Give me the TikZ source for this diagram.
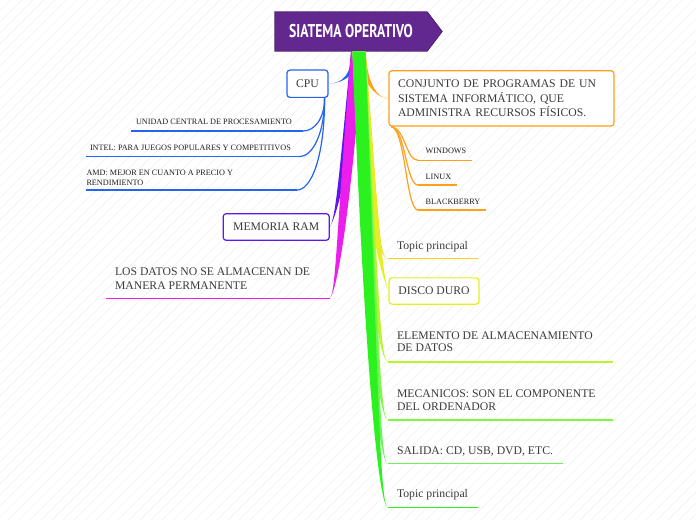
\documentclass[tikz,border=0pt]{standalone}
\usepackage{fontspec}
\setmainfont{Liberation Serif}
\newfontfamily\rootfont{PT Sans}
\usetikzlibrary{calc}
\definecolor{rootc}{HTML}{62288F}
\definecolor{rootbd}{HTML}{4A1C6E}
\definecolor{cpuc}{HTML}{2563F5}
\definecolor{ramc}{HTML}{5A18EE}
\definecolor{magc}{HTML}{EC1EEC}
\definecolor{orc}{HTML}{FF9F1A}
\definecolor{tac}{HTML}{FFD11F}
\definecolor{disc}{HTML}{E6EE22}
\definecolor{elc}{HTML}{B8F52A}
\definecolor{mecc}{HTML}{80F542}
\definecolor{salc}{rgb}{0.42,0.95,0.36}
\definecolor{tbc}{rgb}{0.17,0.95,0.12}
\definecolor{txtc}{HTML}{3A3A3A}
\definecolor{smc}{HTML}{1E1E1E}
\newcommand\ubox[2]{\parbox[b]{#1}{\raggedright #2}}
\newcommand\mmbr[6]{\fill[#1] ([xshift=#2-#3]rb) .. controls +#4 and +#6 .. #5 .. controls +#6 and +#4 .. ([xshift=#2+#3]rb) -- cycle;}
\newcommand\uln[2]{\fill[#1] ([yshift=0.75pt]#2.south west) rectangle ([yshift=-0.75pt]#2.south east);}
\begin{document}
\begin{tikzpicture}[x=1pt,y=-1pt,
  txt/.style={font=\fontsize{11.7}{12.7}\selectfont, text=txtc},
  sml/.style={font=\fontsize{8.2}{10}\selectfont, text=smc},
  ul/.style={anchor=south west, text depth=0pt, inner ysep=#1, outer sep=0pt},
  box/.style={draw=#1, line width=1.2pt, rounded corners=3pt, fill=white, inner sep=0pt, txt},
  sub/.style={draw=#1, line width=1.2pt},
  hatch/.style={draw=black!6, line width=0.5pt}]
\useasboundingbox (0,0) rectangle (696,520);
\begin{scope}
\clip (0,0) rectangle (696,520);
\foreach \i in {-520,-509,...,696} \draw[hatch] (\i,520) -- (\i+520,0);
\end{scope}

% root
\node[fill=rootc, inner sep=0pt, minimum width=152pt, minimum height=39pt, text=white,
  font=\rootfont\bfseries\fontsize{18.5}{20}\selectfont] (root) at (351,31.5)
  {\scalebox{0.74}[1]{SIATEMA OPERATIVO}};
\fill[rootc] (root.north east) -- ([xshift=15pt]root.east) -- (root.south east) -- cycle;
\draw[rootbd, line width=0.8pt] (root.north west) -- (root.north east) -- ([xshift=15pt]root.east) -- (root.south east) -- (root.south west) -- cycle;
\coordinate (rb) at ([shift={(8pt,-0.4pt)}]root.south);

% boxed topics
\node[box=cpuc, minimum width=41pt, minimum height=27.3pt] (cpu) at (307.5,83.7) {CPU};
\node[box=ramc, minimum width=106pt, minimum height=26.6pt] (ram) at (276.2,227) {MEMORIA RAM};
\node[box=orc, minimum width=225pt, minimum height=55.3pt, text width=207pt, align=left,
  font=\fontsize{11.7}{14.7}\selectfont] (conj) at (501.5,98.4)
  {CONJUNTO DE PROGRAMAS DE UN\\ SISTEMA INFORMÁTICO, QUE\\ ADMINISTRA RECURSOS FÍSICOS.};
\node[box=disc, minimum width=90pt, minimum height=26.3pt] (disco) at (434,291) {DISCO DURO};

% underlined topics (right)
\node[ul=9.5pt, inner xsep=9pt, txt] (t1) at (388,258.5) {\ubox{72pt}{Topic principal}};
\node[ul=10.3pt, inner xsep=9pt, txt] (elem) at (388,362) {\ubox{207pt}{ELEMENTO DE ALMACENAMIENTO\\ DE DATOS}};
\node[ul=10pt, inner xsep=9pt, txt] (mec) at (388,420) {\ubox{207pt}{MECANICOS: SON EL COMPONENTE\\ DEL ORDENADOR}};
\node[ul=9.7pt, inner xsep=9pt, txt] (sal) at (388,463.7) {\ubox{157pt}{SALIDA: CD, USB, DVD, ETC.}};
\node[ul=10pt, inner xsep=9pt, txt] (t2) at (388,507.7) {\ubox{72pt}{Topic principal}};

% left
\node[ul=9pt, inner xsep=9pt, txt, font=\fontsize{11.7}{14.3}\selectfont] (datos) at (106,298.3)
  {\ubox{206pt}{LOS DATOS NO SE ALMACENAN DE\\ MANERA PERMANENTE}};
\node[ul=6.7pt, inner xsep=5pt, sml] (unidad) at (131,131) {\ubox{162pt}{UNIDAD CENTRAL DE PROCESAMIENTO}};
\node[ul=6.7pt, inner xsep=4pt, sml] (intel) at (86,156.7) {\ubox{205pt}{INTEL: PARA JUEGOS POPULARES Y COMPETITIVOS}};
\node[ul=5pt, inner xsep=0.5pt, sml] (amd) at (86,190) {\ubox{210pt}{AMD: MEJOR EN CUANTO A PRECIO Y\\ RENDIMIENTO}};

% orange subtopics
\node[ul=6.6pt, inner xsep=7.7pt, sml] (win) at (418,160.3) {\ubox{38.3pt}{WINDOWS}};
\node[ul=6pt, inner xsep=7.7pt, sml] (lin) at (418,185) {\ubox{23.3pt}{LINUX}};
\node[ul=6pt, inner xsep=7.7pt, sml] (bb) at (418,210) {\ubox{52.3pt}{BLACKBERRY}};

% main branches
\mmbr{cpuc}{-3pt}{4pt}{(0,22)}{(cpu.east)}{(14,0)}
\mmbr{orc}{3pt}{4pt}{(0,24)}{(conj.west)}{(-14,0)}
\mmbr{ramc}{-3pt}{5pt}{(-12,126)}{(ram.east)}{(6,-10)}
\mmbr{magc}{-2pt}{6pt}{(-15,186)}{(datos.south east)}{(6,-8)}
\mmbr{tac}{0pt}{6.5pt}{(13,156)}{(t1.south west)}{(-10,0)}
\mmbr{disc}{0pt}{6.5pt}{(13,180)}{(disco.west)}{(-5,-12)}
\mmbr{elc}{0pt}{6.5pt}{(13,232)}{(elem.south west)}{(-8,0)}
\mmbr{mecc}{0pt}{6.5pt}{(13,276)}{(mec.south west)}{(-8,0)}
\mmbr{salc}{0pt}{6.5pt}{(13,308)}{(sal.south west)}{(-8,0)}
\mmbr{tbc}{0pt}{6.5pt}{(13,341)}{(t2.south west)}{(-8,0)}

% underlines
\uln{magc}{datos}
\uln{tbc}{t2}
\uln{salc}{sal}
\uln{tac}{t1}
\uln{elc}{elem}
\uln{mecc}{mec}
\draw[sub=cpuc] (unidad.south west) -- (unidad.south east);
\draw[sub=cpuc] (intel.south west) -- (intel.south east);
\draw[sub=cpuc] (amd.south west) -- (amd.south east);
\draw[sub=orc] (win.south west) -- (win.south east);
\draw[sub=orc] (lin.south west) -- (lin.south east);
\draw[sub=orc] (bb.south west) -- (bb.south east);

% sub connectors
\draw[sub=cpuc] ([xshift=-4pt]cpu.south east) .. controls +(0,20) and +(12,0) .. (unidad.south east);
\draw[sub=cpuc] ([xshift=-4pt]cpu.south east) .. controls +(0,35) and +(14,0) .. (intel.south east);
\draw[sub=cpuc] ([xshift=-4pt]cpu.south east) .. controls +(0,60) and +(14,0) .. (amd.south east);
\draw[sub=orc] ([xshift=3pt]conj.south west) .. controls +(14,2) and +(-12,0) .. (win.south west);
\draw[sub=orc] ([xshift=3pt]conj.south west) .. controls +(14,2) and +(-12,0) .. (lin.south west);
\draw[sub=orc] ([xshift=3pt]conj.south west) .. controls +(14,2) and +(-12,0) .. (bb.south west);
\end{tikzpicture}
\end{document}
